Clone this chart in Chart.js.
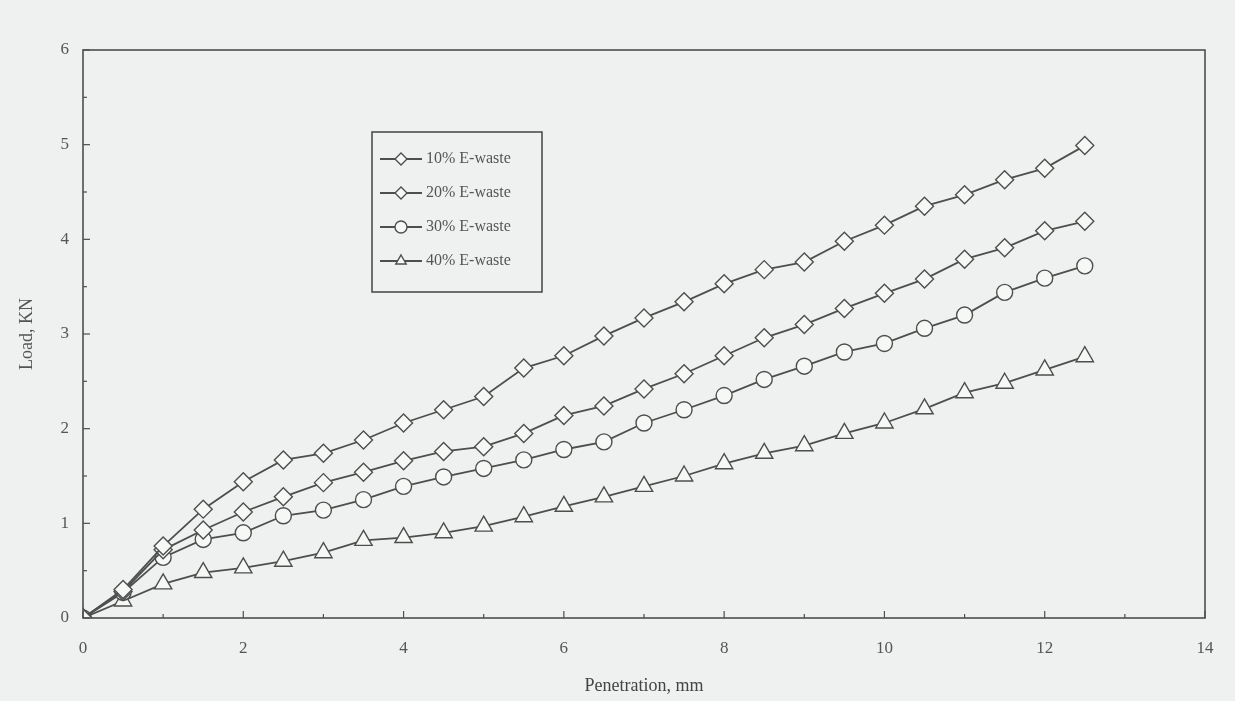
<!DOCTYPE html>
<html>
<head>
<meta charset="utf-8">
<title>Load vs Penetration</title>
<script src="https://cdn.jsdelivr.net/npm/chart.js@4.4.1/dist/chart.umd.min.js"></script>
<style>
  html, body { margin: 0; padding: 0; background: #eef1ef; }
  #wrap { width: 1235px; height: 701px; }
</style>
</head>
<body>
<div id="wrap"><canvas id="cbrChart" width="1235" height="701"></canvas></div>
<script>
'use strict';

/* ── DATA ── */
const penetration = [0, 0.5, 1, 1.5, 2, 2.5, 3, 3.5, 4, 4.5, 5, 5.5, 6, 6.5, 7, 7.5, 8, 8.5, 9, 9.5, 10, 10.5, 11, 11.5, 12, 12.5];
const load10 = [0, 0.30, 0.76, 1.15, 1.44, 1.67, 1.74, 1.88, 2.06, 2.20, 2.34, 2.64, 2.77, 2.98, 3.17, 3.34, 3.53, 3.68, 3.76, 3.98, 4.15, 4.35, 4.47, 4.63, 4.75, 4.99];
const load20 = [0, 0.28, 0.72, 0.93, 1.12, 1.28, 1.43, 1.54, 1.66, 1.76, 1.81, 1.95, 2.14, 2.24, 2.42, 2.58, 2.77, 2.96, 3.10, 3.27, 3.43, 3.58, 3.79, 3.91, 4.09, 4.19];
const load30 = [0, 0.27, 0.64, 0.83, 0.90, 1.08, 1.14, 1.25, 1.39, 1.49, 1.58, 1.67, 1.78, 1.86, 2.06, 2.20, 2.35, 2.52, 2.66, 2.81, 2.90, 3.06, 3.20, 3.44, 3.59, 3.72];
const load40 = [0, 0.18, 0.36, 0.48, 0.53, 0.60, 0.69, 0.82, 0.85, 0.90, 0.97, 1.07, 1.18, 1.28, 1.39, 1.50, 1.63, 1.74, 1.82, 1.95, 2.06, 2.21, 2.38, 2.48, 2.62, 2.76];

const seriesLabels = ['10% E-waste', '20% E-waste', '30% E-waste', '40% E-waste'];
const seriesValues = [load10, load20, load30, load40];
const seriesMarkers = ['rectRot', 'rectRot', 'circle', 'triangle'];
const markerSizes = [9, 9, 8, 10];

const xTicks = [0, 2, 4, 6, 8, 10, 12, 14];
const yTicks = [0, 1, 2, 3, 4, 5, 6];

/* ── STYLE ── */
const INK = '#4d4f4e';
const PAPER = '#eef1ef';
const SERIF = "'Liberation Serif', 'DejaVu Serif', serif";

const datasets = seriesValues.map((vals, i) => ({
  label: seriesLabels[i],
  data: penetration.map((x, j) => ({ x: x, y: vals[j] })),
  borderColor: INK,
  borderWidth: 1.8,
  pointStyle: seriesMarkers[i],
  pointRadius: markerSizes[i],
  pointBackgroundColor: '#f6f8f6',
  pointBorderColor: INK,
  pointBorderWidth: 1.4,
  tension: 0
}));

/* ── FRAME + INWARD TICKS ── */
const framePlugin = {
  id: 'frame',
  afterDraw(chart) {
    const { ctx, chartArea: a, scales } = chart;
    ctx.save();
    ctx.strokeStyle = INK;
    ctx.lineWidth = 1.6;
    ctx.strokeRect(a.left, a.top, a.right - a.left, a.bottom - a.top);
    ctx.lineWidth = 1.2;
    // y ticks: major every 1, minor every 0.5
    for (let v = 0; v <= 6; v += 0.5) {
      const y = scales.y.getPixelForValue(v);
      const len = v % 1 === 0 ? 7 : 4;
      ctx.beginPath(); ctx.moveTo(a.left, y); ctx.lineTo(a.left + len, y); ctx.stroke();
    }
    // x ticks: major every 2, minor every 1
    for (let v = 0; v <= 14; v += 1) {
      const x = scales.x.getPixelForValue(v);
      const len = v % 2 === 0 ? 7 : 4;
      ctx.beginPath(); ctx.moveTo(x, a.bottom); ctx.lineTo(x, a.bottom - len); ctx.stroke();
    }
    ctx.restore();
  }
};

/* ── LEGEND BOX INSIDE THE PLOT ── */
const boxLegendPlugin = {
  id: 'boxLegend',
  afterDraw(chart) {
    const { ctx } = chart;
    const bx = 372, by = 132, bw = 170, bh = 160;
    ctx.save();
    ctx.fillStyle = PAPER;
    ctx.fillRect(bx, by, bw, bh);
    ctx.strokeStyle = INK;
    ctx.lineWidth = 1.6;
    ctx.strokeRect(bx, by, bw, bh);
    ctx.font = '16px ' + SERIF;
    ctx.textBaseline = 'middle';
    seriesLabels.forEach((lab, i) => {
      const y = by + 27 + i * 34;
      ctx.strokeStyle = INK;
      ctx.lineWidth = 1.8;
      ctx.beginPath(); ctx.moveTo(bx + 8, y); ctx.lineTo(bx + 50, y); ctx.stroke();
      ctx.fillStyle = '#f6f8f6';
      ctx.lineWidth = 1.4;
      Chart.helpers.drawPoint(ctx, { pointStyle: seriesMarkers[i], radius: 6, rotation: 0, borderWidth: 1.4 }, bx + 29, y);
      ctx.fillStyle = '#555';
      ctx.fillText(lab, bx + 54, y);
    });
    ctx.restore();
  }
};

new Chart(document.getElementById('cbrChart'), {
  type: 'line',
  data: { datasets },
  plugins: [framePlugin, boxLegendPlugin],
  options: {
    responsive: false,
    animation: false,
    layout: { padding: { left: 0, right: 30, top: 50, bottom: 0 } },
    plugins: { legend: { display: false }, tooltip: { enabled: false } },
    scales: {
      x: {
        type: 'linear',
        min: 0, max: 14,
        afterFit(s) { s.height = 83; },
        afterBuildTicks(s) { s.ticks = xTicks.map(v => ({ value: v })); },
        grid: { display: false, drawTicks: false },
        border: { display: false },
        ticks: { color: '#555', font: { family: SERIF, size: 17 }, padding: 20 },
        title: { display: true, text: 'Penetration, mm', color: '#444', font: { family: SERIF, size: 18 }, padding: { top: 4 } }
      },
      y: {
        type: 'linear',
        min: 0, max: 6,
        afterFit(s) { s.width = 83; },
        afterBuildTicks(s) { s.ticks = yTicks.map(v => ({ value: v })); },
        grid: { display: false, drawTicks: false },
        border: { display: false },
        ticks: { color: '#555', font: { family: SERIF, size: 17 }, padding: 14 },
        title: { display: true, text: 'Load, KN', color: '#555', font: { family: SERIF, size: 18 }, padding: { top: 16, bottom: 0 } }
      }
    }
  }
});
</script>
</body>
</html>
